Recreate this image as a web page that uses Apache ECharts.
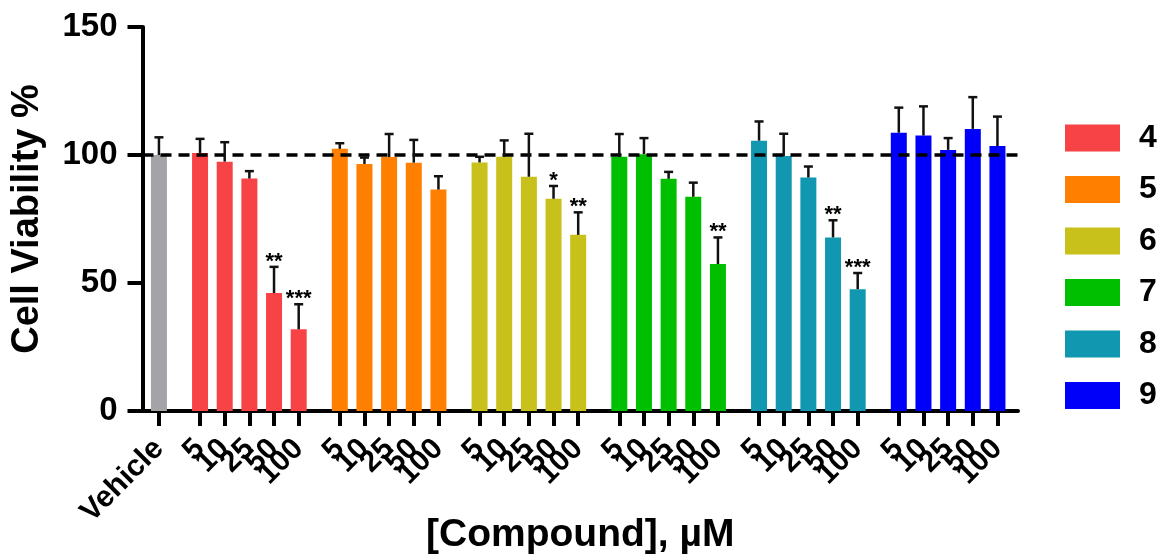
<!DOCTYPE html>
<html>
<head>
<meta charset="utf-8">
<title>Cell Viability</title>
<script src="https://cdn.jsdelivr.net/npm/echarts@6/dist/echarts.min.js"></script>
<style>
    html, body { margin: 0; padding: 0; background: #fff; }
    #main { width: 1162px; height: 556px; }
</style>
</head>
<body>
<div id="main"></div>
<script>
// 数据
var groupNames = ['4', '5', '6', '7', '8', '9'];
var doseLabels = ['5', '10', '25', '50', '100'];
var yTicks = [0, 50, 100, 150];

var vehicleMean = 100.0;
var vehicleSd = 6.9;

var mean4 = [100.8, 97.4, 90.8, 46.1, 31.9];
var sd4 = [5.5, 7.6, 2.9, 10.2, 9.8];
var star4 = ['', '', '', '**', '***'];

var mean5 = [102.4, 96.5, 99.2, 97.0, 86.5];
var sd5 = [2.2, 2.5, 9.0, 8.9, 5.2];
var star5 = ['', '', '', '', ''];

var mean6 = [97.1, 99.3, 91.5, 82.9, 68.8];
var sd6 = [2.2, 6.4, 16.8, 5.0, 8.8];
var star6 = ['', '', '', '*', '**'];

var mean7 = [99.3, 100.3, 90.7, 83.7, 57.4];
var sd7 = [8.9, 6.3, 2.7, 5.5, 10.4];
var star7 = ['', '', '', '', '**'];

var mean8 = [105.6, 99.6, 91.2, 67.8, 47.6];
var sd8 = [7.5, 8.7, 4.3, 6.7, 6.3];
var star8 = ['', '', '', '**', '***'];

var mean9 = [108.7, 107.6, 102.0, 110.2, 103.5];
var sd9 = [9.8, 11.4, 4.6, 12.4, 11.5];
var star9 = ['', '', '', '', ''];

var vehicleColor = '#a3a3a8';
var groupColors = ['#f84346', '#ff7f00', '#c8c11b', '#00bf00', '#1198b0', '#0000fa'];

var means = [mean4, mean5, mean6, mean7, mean8, mean9];
var sds = [sd4, sd5, sd6, sd7, sd8, sd9];
var stars = [star4, star5, star6, star7, star8, star9];

var FONT = '"Liberation Sans", Arial, Helvetica, sans-serif';

// 1.x轴: fine category slots so the gaps between groups can be narrower than 2 bars
var LEAD = 4, GAP = 9, STEP = 5, TRAIL = 5;
var cats = [];
function pad(n) {
    for (var i = 0; i < n; i++) cats.push('');
}
pad(LEAD);
var vehicleIdx = cats.length;
cats.push('Vehicle');
var barIdx = [];
for (var g = 0; g < groupNames.length; g++) {
    pad(GAP);
    barIdx.push([]);
    for (var d = 0; d < doseLabels.length; d++) {
        if (d > 0) pad(STEP);
        barIdx[g].push(cats.length);
        cats.push(doseLabels[d]);
    }
}
pad(TRAIL);

function emptyRow() {
    var a = [];
    for (var i = 0; i < cats.length; i++) a.push(null);
    return a;
}

// 2.柱子 + 误差线
var errRows = [[vehicleIdx, vehicleMean, vehicleSd]];
var errStars = [''];
var vehicleData = emptyRow();
vehicleData[vehicleIdx] = vehicleMean;

var series = [{
    name: 'Vehicle',
    type: 'bar',
    data: vehicleData,
    barWidth: 16,
    barGap: '-100%',
    z: 1,
    itemStyle: { color: vehicleColor },
    markLine: {
        silent: true,
        symbol: ['none', 'none'],
        label: { show: false },
        lineStyle: { color: '#000', type: [11, 7], width: 3.5 },
        data: [{ yAxis: 100 }]
    }
}];

for (var g = 0; g < groupNames.length; g++) {
    var row = emptyRow();
    for (var d = 0; d < doseLabels.length; d++) {
        row[barIdx[g][d]] = means[g][d];
        errRows.push([barIdx[g][d], means[g][d], sds[g][d]]);
        errStars.push(stars[g][d]);
    }
    series.push({
        name: groupNames[g],
        type: 'bar',
        data: row,
        barWidth: 16,
        barGap: '-100%',
        z: 2,
        itemStyle: { color: groupColors[g] }
    });
}

function renderErr(params, api) {
    var x = api.value(0), m = api.value(1), s = api.value(2);
    var base = api.coord([x, m]);
    var top = api.coord([x, m + s]);
    var half = 4.5;
    var st = { stroke: '#111', lineWidth: 2.5 };
    var children = [
        { type: 'line', shape: { x1: base[0], y1: base[1], x2: top[0], y2: top[1] }, style: st },
        { type: 'line', shape: { x1: top[0] - half, y1: top[1], x2: top[0] + half, y2: top[1] }, style: st }
    ];
    var star = errStars[params.dataIndex];
    if (star) {
        children.push({
            type: 'text',
            style: {
                text: star, x: top[0], y: top[1] + 6,
                align: 'center', verticalAlign: 'bottom',
                fontSize: 22, fontWeight: 'bold', fontFamily: FONT, fill: '#000'
            }
        });
    }
    return { type: 'group', children: children };
}

series.push({
    name: 'err',
    type: 'custom',
    data: errRows,
    encode: { x: 0, y: 1 },
    z: 5,
    silent: true,
    renderItem: renderErr
});

var myChart = echarts.init(document.getElementById('main'));
myChart.setOption({
    animation: false,
    backgroundColor: '#fff',
    grid: { left: 142.5, right: 144, top: 27, bottom: 145, outerBoundsMode: 'none' },
    legend: {
        data: groupNames,
        orient: 'vertical',
        left: 1060,
        top: 117,
        icon: 'rect',
        itemWidth: 55,
        itemHeight: 27,
        itemGap: 19.5,
        selectedMode: false,
        textStyle: {
            fontSize: 32, fontWeight: 'bold', fontFamily: FONT, color: '#000',
            padding: [0, 0, 0, 14]
        }
    },
    xAxis: {
        type: 'category',
        data: cats,
        boundaryGap: false,
        name: '[Compound], µM',
        nameLocation: 'middle',
        nameGap: 105,
        nameMoveOverlap: false,
        nameTextStyle: { fontSize: 39, fontWeight: 'bold', fontFamily: FONT, color: '#000' },
        axisLine: { lineStyle: { color: '#000', width: 4 } },
        axisTick: {
            length: 15,
            lineStyle: { color: '#000', width: 4 },
            interval: function (idx, val) { return val !== ''; }
        },
        axisLabel: {
            rotate: 45,
            margin: 33,
            fontSize: 30,
            fontWeight: 'bold',
            fontFamily: FONT,
            color: '#000',
            interval: 0
        },
        splitLine: { show: false }
    },
    yAxis: {
        type: 'value',
        min: yTicks[0],
        max: yTicks[yTicks.length - 1],
        interval: 50,
        name: 'Cell Viability %',
        nameLocation: 'middle',
        nameGap: 96,
        nameMoveOverlap: false,
        nameTextStyle: { fontSize: 38, fontWeight: 'bold', fontFamily: FONT, color: '#000' },
        axisLine: { show: true, lineStyle: { color: '#000', width: 4 } },
        axisTick: { show: true, length: 15, lineStyle: { color: '#000', width: 4 } },
        axisLabel: { margin: 25, fontSize: 33, fontWeight: 'bold', fontFamily: FONT, color: '#000' },
        splitLine: { show: false }
    },
    series: series
});
</script>
</body>
</html>
